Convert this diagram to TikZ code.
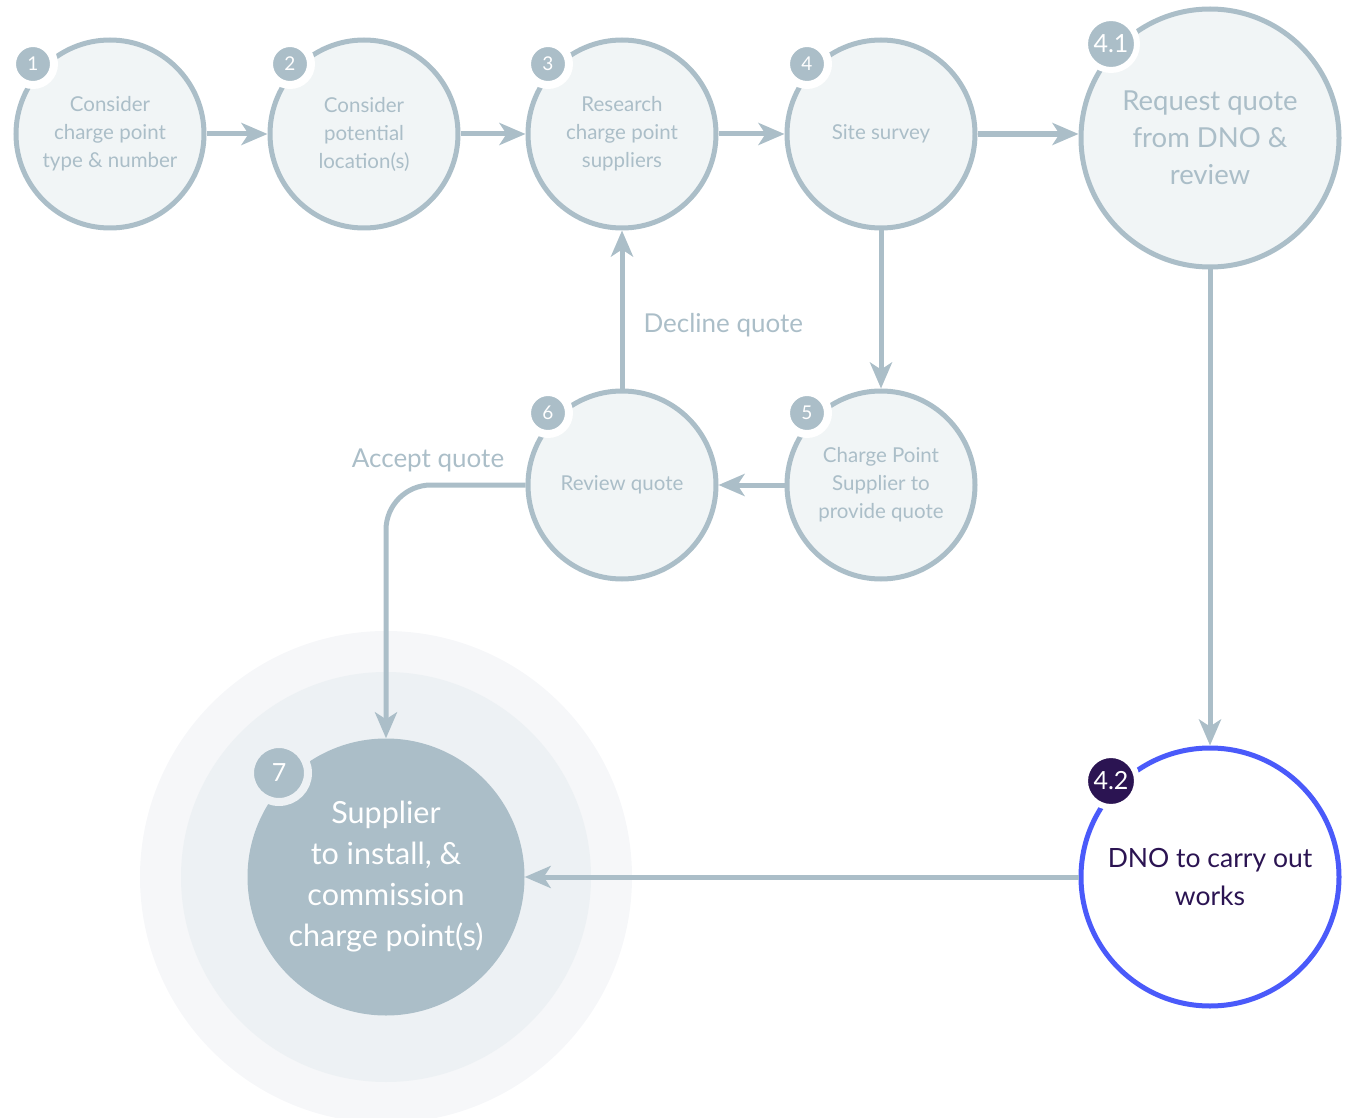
\documentclass[tikz,border=0pt]{standalone}
\usepackage{fontspec}
\setmainfont{Lato}
\usetikzlibrary{arrows.meta}
\definecolor{steel}{HTML}{ABBEC8}
\definecolor{pale}{HTML}{F1F5F6}
\definecolor{haloA}{HTML}{F6F7F9}
\definecolor{haloB}{HTML}{EDF1F4}
\definecolor{blueline}{HTML}{4A5AFA}
\definecolor{plum}{HTML}{2B1452}
\begin{document}
\begin{tikzpicture}[x=1pt,y=-1pt,
  stage/.style={circle, draw=steel, line width=5pt, fill=pale, minimum size=188pt,
    inner sep=0pt, align=center, text=steel, font=\fontsize{20.5}{28}\selectfont},
  bigstage/.style={stage, minimum size=258pt, font=\fontsize{27.5}{37}\selectfont},
  badge/.style={circle, fill=steel, draw=white, line width=8pt, minimum size=42pt,
    inner sep=0pt, text=white, font=\fontsize{19}{19}\selectfont},
  bigbadge/.style={badge, line width=6pt, minimum size=52pt, font=\fontsize{25}{25}\selectfont},
  arr/.style={draw=steel, line width=5pt, -{Stealth[length=26pt,width=22pt,inset=7pt]}},
  note/.style={text=steel, font=\fontsize{26}{28}\selectfont}]

\useasboundingbox (0,0) rectangle (1353,1118);

% soft halo behind the final step
\fill[haloA] (386,877) circle (246pt);
\fill[haloB] (386,877) circle (205pt);

% steps
\node[stage] (c1) at (110,134) {Consider\\charge point\\type \& number};
\node[stage] (c2) at (364,134) {Consider\\potential\\location(s)};
\node[stage] (c3) at (622,134) {Research\\charge point\\suppliers};
\node[stage] (c4) at (881,134) {Site survey};
\node[bigstage] (c41) at (1210,138) {Request quote\\from DNO \&\\review};
\node[stage] (c5) at (881,485) {Charge Point\\Supplier to\\provide quote};
\node[stage] (c6) at (622,485) {Review quote};
\node[bigstage, draw=blueline, fill=white, text=plum, font=\fontsize{26.5}{38}\selectfont] (c42) at (1210,877) {DNO to carry out\\works};
\node[circle, fill=steel, minimum size=277pt, inner sep=0pt, text=white, align=center,
  font=\fontsize{30.5}{41}\selectfont] (c7) at (386,877) {Supplier\\to install, \&\\commission\\charge point(s)};

% step numbers
\node[badge] (b1) at (33,64) {1};
\node[badge] (b2) at (290,64) {2};
\node[badge] (b3) at (548,64) {3};
\node[badge] (b4) at (807,64) {4};
\node[bigbadge] (b41) at (1111,44) {4.1};
\node[badge] (b5) at (807,413) {5};
\node[badge] (b6) at (548,413) {6};
\node[bigbadge, fill=plum] (b42) at (1111,781) {4.2};
\node[bigbadge, draw=haloB, line width=8pt, minimum size=58pt] (b7) at (279,773) {7};

% connectors
\draw[arr] (c1.east) -- (c2.west);
\draw[arr] (c2.east) -- (c3.west);
\draw[arr] (c3.east) -- (c4.east -| c4.west);
\draw[arr, line width=6pt] (c4.east) -- (c4.east -| c41.west);
\draw[arr] (c4.south) -- (c5.north);
\draw[arr] (c5.west) -- (c6.east);
\draw[arr] (c6.north) -- (c3.south);
\draw[arr, rounded corners=45pt] (c6.west) -| (c7.north);
\draw[arr] (c41.south) -- (c42.north);
\draw[arr] (c42.west) -- (c7.east);

% branch labels
\node[note, anchor=west] (decline) at (640,325) {Decline quote};
\node[note] (accept) at (428,460) {Accept quote};
\end{tikzpicture}
\end{document}
